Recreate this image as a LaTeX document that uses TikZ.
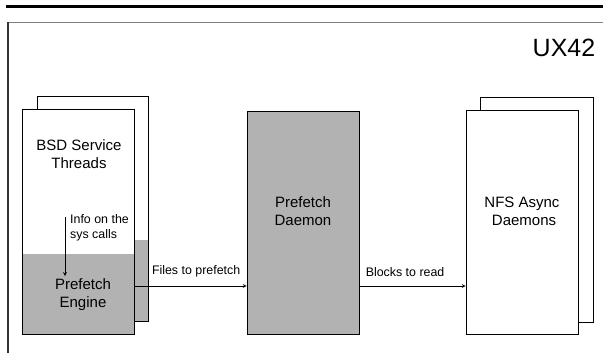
\documentclass[tikz,border=0pt]{standalone}
\usepackage{fontspec}
\setmainfont{Liberation Sans}
\usetikzlibrary{positioning}

\begin{document}
\begin{tikzpicture}[
    x=1pt, y=-1pt,
    box/.style={rectangle, draw=black, fill=white, line width=0.8pt,
                minimum width=112pt, minimum height=224pt, inner sep=0pt},
    lower/.style={path picture={\fill[black!30] (path picture bounding box.south west)
                  rectangle ([yshift=#1]path picture bounding box.east |- path picture bounding box.south);}},
    lbl/.style={align=center, font=\fontsize{15}{18}\selectfont},
    note/.style={align=left, inner sep=0pt, font=\fontsize{12.4}{15}\selectfont},
    arrow/.style={->, >=stealth, line width=0.7pt}
]
\useasboundingbox (0,0) rectangle (603,353);

% page frame
\fill[black] (6,4.7) rectangle (603,8.3);
\draw[gray, line width=1.5pt] (7,22.5) -- (603,22.5);
\draw[black!80, line width=1.5pt] (8,22.5) -- (8,353);
\node (title) at (564,48) {\fontsize{25}{30}\selectfont UX42};

% boxes
\node (bsdback) [box, lower=81pt, minimum width=111pt, minimum height=225pt] at (92.5,208.5) {};
\node (bsd) [box, lower=80pt, minimum height=225pt] at (78,221.5) {};
\node (daemon) [box, fill=black!30, minimum height=223pt] at (303,222.5) {};
\node (nfsback) [box, minimum width=113pt, minimum height=225pt] at (536.5,209.5) {};
\node (nfs) [box] at (522,222) {};

% labels
\node (threads) [lbl] at (79,154) {BSD Service\\Threads};
\node (engine) [lbl] at (83,295) {Prefetch\\Engine};
\node (daemontxt) [lbl] at (303,211) {Prefetch\\Daemon};
\node (nfstxt) [lbl] at (522,211) {NFS Async\\\ Daemons};
\node (info) [note, anchor=west] at (70,227.5) {Info on the\\sys calls};

% flows
\coordinate (flow) at ([yshift=-64.5pt]bsd.east);
\draw [arrow] ([xshift=-5pt,yshift=10.5pt]info.west) -- ([xshift=-5pt,yshift=-48.5pt]info.west);
\draw [arrow] (flow) -- (flow -| daemon.west)
    node [note, pos=0.55, above=9pt] {Files to prefetch};
\draw [arrow] (flow -| daemon.east) -- (flow -| nfs.west)
    node [note, pos=0.43, above=9pt] {Blocks to read};

\end{tikzpicture}
\end{document}
